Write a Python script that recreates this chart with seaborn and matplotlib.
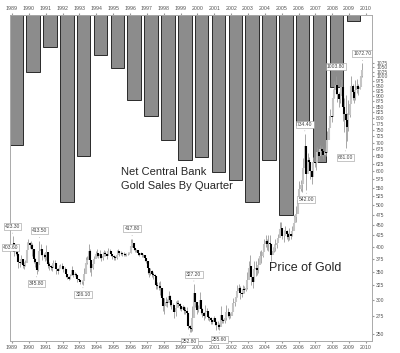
import numpy as np
import pandas as pd
import matplotlib
matplotlib.use('Agg')
import matplotlib.pyplot as plt
import seaborn as sns

# net central bank sales, tonnes per year
years = list(range(1989, 2010))
cb_sales = [429, 188, 106, 617, 465, 132, 175, 281, 333, 413, 478,
            469, 518, 545, 617, 479, 660, 363, 485, 238, 20]

# monthly gold price range, Jan 1989 .. Oct 2009
price_high = [
    423, 395, 396, 391, 381, 374, 382, 370, 368, 373, 411, 418,
    410, 412, 409, 381, 377, 360, 373, 413.5, 406, 392, 387, 386,
    404, 372, 369, 363, 362, 372, 372, 362, 355, 362, 364, 366,
    360, 359, 352, 344, 340, 346, 360, 349, 349, 348, 341, 336,
    332, 334, 339, 356, 378, 380, 406, 396, 372, 372, 380, 391,
    395, 386, 392, 383, 388, 394, 390, 385, 398, 396, 389, 384,
    382, 380, 393, 396, 391, 391, 389, 388, 386, 387, 388, 389,
    416, 417.8, 403, 396, 395, 390, 386, 389, 386, 385, 382, 373,
    367, 354, 357, 352, 349, 345, 334, 330, 330, 333, 312, 298,
    303, 305, 302, 315, 308, 297, 296, 289, 299, 301, 300, 296,
    290, 293, 290, 289, 289, 266, 263, 260, 290, 327.2, 304, 292,
    292, 313, 294, 287, 280, 292, 288, 278, 276, 274, 269, 276,
    271, 268, 268, 265, 291, 274, 271, 279, 293, 288, 281, 280,
    287, 304, 303, 310, 326, 328, 323, 316, 326, 324, 323, 349,
    370, 382, 354, 340, 371, 371, 361, 376, 391, 392, 399, 417,
    426, 417, 427, 427, 396, 399, 406, 417, 418, 428, 456, 456,
    432, 437, 446, 437, 431, 443, 430, 446, 474, 478, 497, 541,
    570, 573, 584, 644, 734.4, 643, 663, 649, 628, 602, 649, 639,
    652, 685, 669, 692, 688, 671, 682, 677, 744, 790, 840, 827,
    934, 975, 1003.8, 950, 920, 935, 988, 914, 890, 905, 820, 879,
    919, 1005, 960, 913, 981, 985, 961, 959, 1024, 1072.7,
]
price_low = [
    394, 381, 383, 377, 357, 358, 367, 356, 355, 360, 376, 400,
    398, 396, 380, 367, 359, 345.8, 351, 368, 383, 372, 377, 371,
    372, 356, 352, 353, 351, 360, 360, 346, 346, 353, 356, 354,
    349, 349, 340, 336, 334, 336, 344, 339, 341, 340, 331, 332,
    328, 327, 326.1, 336, 354, 364, 377, 350, 342, 355, 368, 377,
    378, 376, 377, 370, 373, 381, 380, 375, 385, 387, 381, 375,
    373, 373, 374, 386, 381, 383, 381, 380, 381, 381, 383, 385,
    387, 399, 393, 389, 389, 382, 380, 385, 379, 379, 370, 366,
    346, 340, 344, 339, 337, 337, 318, 319, 317, 309, 296, 283,
    278, 290, 289, 300, 291, 286, 288, 273, 276, 290, 289, 285,
    283, 284, 278, 278, 270, 257, 252.8, 253, 254, 296, 289, 278,
    281, 288, 278, 274, 270, 272, 277, 270, 268, 264, 264, 268,
    263, 256, 257, 255.6, 262, 266, 265, 266, 270, 274, 271, 272,
    277, 287, 290, 299, 305, 314, 302, 305, 312, 311, 316, 318,
    343, 341, 325, 320, 337, 341, 343, 348, 369, 367, 379, 396,
    400, 393, 390, 385, 371, 384, 388, 390, 397, 410, 422, 427,
    417, 411, 425, 418, 413, 414, 417, 423, 437, 461, 457, 490,
    520, 540, 537, 580, 639, 542, 613, 613, 575, 560, 611, 613,
    603, 648, 635, 661, 652, 642, 650, 651, 676, 726, 774, 781,
    848, 889, 911, 871, 850, 867, 906, 786, 740, 681, 705, 745,
    803, 895, 881, 868, 883, 917, 906, 933, 983, 995,
]

# boxed price callouts
label_text = ['423.30', '403.60', '413.50', '345.80', '326.10', '417.80', '252.80',
              '327.20', '255.60', '734.40', '542.00', '1003.80', '681.00', '1072.70']
label_month = [0, 0, 19, 17, 50, 85, 126, 129, 147, 208, 209, 230, 237, 249]
label_price = [423.3, 403.6, 413.5, 345.8, 326.1, 417.8, 252.8,
               327.2, 255.6, 734.4, 542.0, 1003.8, 681.0, 1072.7]
label_side = ['up', 'left', 'up', 'down', 'down', 'up', 'down',
              'up', 'down', 'up', 'down', 'up', 'down', 'up']

price_ticks = list(range(250, 1100, 25))
year_ticks = list(range(1989, 2011))

sns.set_style('white')
plt.rcParams['font.family'] = ['Liberation Sans', 'DejaVu Sans']

fig = plt.figure(figsize=(4, 3.53), dpi=100)
ax = fig.add_axes([0.025, 0.034, 0.905, 0.9235])

df_bars = pd.DataFrame({'x': np.array(years) + 0.25, 'tonnes': cb_sales})
sns.barplot(data=df_bars, x='x', y='tonnes', native_scale=True, width=0.8,
            color='#8c8c8c', saturation=1, edgecolor='#2a2a2a', linewidth=0.7,
            errorbar=None, ax=ax)
ax.set_ylim(1076, 0)
ax.set_yticks([])
ax.set_ylabel('')
ax.set_xlabel('')
ax.set_xlim(1988.88, 2010.36)
ax.set_xticks(year_ticks, labels=[str(y) for y in year_ticks])
ax.tick_params(axis='x', top=True, labeltop=True, bottom=True, labelbottom=True,
               labelsize=3.8, labelcolor='#555555', length=1.5, pad=1.5, color='#999999')
for s in ax.spines.values():
    s.set_color('#aaaaaa')
    s.set_linewidth(0.6)

ax2 = ax.twinx()
ax2.set_yscale('log')
ax2.set_ylim(240.8, 1392)
ax2.set_xlim(1988.88, 2010.36)

n = len(price_high)
mx = 1989 + (np.arange(n) + 0.5) / 12
hi = np.array(price_high, dtype=float)
lo = np.array(price_low, dtype=float)
mid = (hi + lo) / 2
prev = np.concatenate([[mid[0]], mid[:-1]])
down = mid < prev

ax2.vlines(mx, lo, hi, color='#9a9a9a', lw=0.6)
ax2.vlines(mx[~down], np.minimum(prev, mid)[~down], np.maximum(prev, mid)[~down],
           color='#c4c4c4', lw=1.5)
ax2.vlines(mx[down], mid[down], prev[down], color='black', lw=1.5)

offsets = {'up': (0, 7), 'down': (0, -7), 'left': (-1.5, -1.5)}
for txt, m, p, side in zip(label_text, label_month, label_price, label_side):
    ax2.annotate(txt, xy=(1989 + (m + 0.5) / 12, p), xytext=offsets[side],
                 textcoords='offset points', ha='center', va='center',
                 fontsize=3.6, color='#444444',
                 bbox=dict(boxstyle='square,pad=0.2', fc='white', ec='#999999', lw=0.4),
                 arrowprops=dict(arrowstyle='-', color='#888888', lw=0.4))

ax2.set_yticks(price_ticks, labels=[str(t) for t in price_ticks])
ax2.minorticks_off()
ax2.tick_params(axis='y', labelsize=3.6, labelcolor='#555555', length=1.5, pad=1.5,
                color='#999999')
for s in ax2.spines.values():
    s.set_color('#aaaaaa')
    s.set_linewidth(0.6)

fig.text(0.302, 0.527, 'Net Central Bank\nGold Sales By Quarter', fontsize=8,
         va='top', ha='left', linespacing=1.45)
fig.text(0.673, 0.24, 'Price of Gold', fontsize=9, va='center', ha='left')

fig.savefig('out.png', dpi=100)
